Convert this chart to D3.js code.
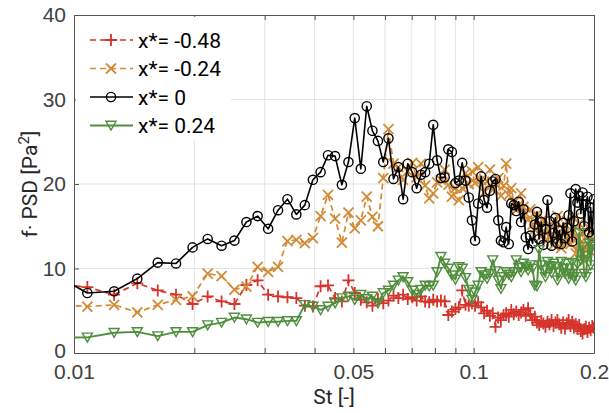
<!DOCTYPE html>
<html>
<head>
<meta charset="utf-8">
<script src="https://cdn.jsdelivr.net/npm/d3@7"></script>
<style>
  body { margin: 0; background: #fff; }
  svg { font-family: Roboto, "Liberation Sans", Arial, sans-serif; }
  .tick-label { fill: #404040; font-size: 21px; }
  .axis-title { fill: #262626; font-size: 21px; }
  .legend-text { fill: #000; font-size: 21px; }
</style>
</head>
<body>
<div id="chart"></div>
<script>
// Strouhal number of each spectral bin
const st = [0.009, 0.0108, 0.0126, 0.0144, 0.0162, 0.018, 0.0198, 0.0216, 0.0234, 0.0252,
  0.027, 0.0288, 0.0306, 0.0324, 0.0342, 0.036, 0.0378, 0.0396, 0.0414, 0.0432,
  0.045, 0.0468, 0.0486, 0.0504, 0.0522, 0.054, 0.0558, 0.0576, 0.0594, 0.0612,
  0.063, 0.0648, 0.0666, 0.0684, 0.0702, 0.072, 0.0738, 0.0756, 0.0774, 0.0792,
  0.081, 0.0828, 0.0846, 0.0864, 0.0882, 0.09, 0.0918, 0.0936, 0.0954, 0.0972,
  0.099, 0.1008, 0.1026, 0.1044, 0.1062, 0.108, 0.1098, 0.1116, 0.1134, 0.1152,
  0.117, 0.1188, 0.1206, 0.1224, 0.1242, 0.126, 0.1278, 0.1296, 0.1314, 0.1332,
  0.135, 0.1368, 0.1386, 0.1404, 0.1422, 0.144, 0.1458, 0.1476, 0.1494, 0.1512,
  0.153, 0.1548, 0.1566, 0.1584, 0.1602, 0.162, 0.1638, 0.1656, 0.1674, 0.1692,
  0.171, 0.1728, 0.1746, 0.1764, 0.1782, 0.18, 0.1818, 0.1836, 0.1854, 0.1872,
  0.189, 0.1908, 0.1926, 0.1944, 0.1962, 0.198, 0.1998];

// f*PSD [Pa^2] for each station
const psdM048 = [8.2, 7.8, 6.9, 8.25, 7.4, 6.9, 5.8, 6.7, 6.1, 5.8,
  8.05, 8.6, 6.9, 6.7, 6.6, 6.5, 5.6, 5.5, 7.9, 8.0,
  6.5, 6.1, 8.6, 7.1, 6.3, 6.0, 5.6, 6.4, 5.9, 6.2,
  6.8, 6.5, 6.9, 6.4, 6.6, 6.2, 6.7, 6.1, 6.0, 6.3,
  6.1, 6.2, 6.1, 4.5, 4.9, 5.2, 5.4, 7.4, 5.7, 5.6,
  5.9, 5.6, 6.0, 5.4, 4.7, 5.0, 4.4, 4.7, 3.1, 4.2,
  3.9, 4.5, 4.7, 4.3, 5.1, 4.6, 4.9, 4.5, 4.8, 5.1,
  4.4, 5.3, 4.6, 3.9, 4.3, 3.6, 3.3, 3.8, 3.5, 3.1,
  3.7, 3.4, 3.9, 3.2, 3.6, 3.9, 3.4, 3.0, 3.6, 2.9,
  3.5, 3.9, 3.2, 3.7, 3.0, 3.4, 2.9, 3.3, 2.6, 2.3,
  2.8, 3.1, 2.5, 3.0, 2.7, 3.2, 3.0];
const psdM024 = [5.7, 5.5, 5.7, 4.8, 5.7, 6.3, 6.7, 9.4, 9.1, 7.5,
  7.85, 10.2, 9.6, 10.2, 13.25, 13.4, 13.0, 13.6, 16.2, 18.7,
  15.9, 13.05, 16.6, 14.75, 15.7, 18.5, 16.1, 15.0, 20.7, 26.5,
  22.4, 22.0, 20.5, 21.5, 22.5, 20.8, 22.4, 19.8, 18.3, 18.9,
  20.2, 20.5, 21.7, 19.9, 18.5, 19.5, 18.1, 19.5, 21.3, 20.0,
  21.5, 20.1, 22.0, 20.5, 19.0, 20.3, 21.7, 19.3, 20.0, 20.7,
  18.6, 19.8, 22.4, 18.7, 19.5, 17.8, 16.9, 17.5, 18.9, 17.3,
  16.5, 15.8, 17.0, 15.2, 14.6, 16.4, 15.0, 13.8, 15.9, 14.2,
  13.4, 15.1, 14.0, 12.8, 14.5, 16.2, 13.5, 12.4, 14.8, 13.2,
  15.6, 13.9, 12.9, 14.4, 16.0, 11.8, 13.6, 15.3, 12.6, 14.1,
  10.9, 13.7, 12.2, 14.8, 12.0, 13.5, 14.6];
const psd0 = [9.2, 7.1, 7.3, 8.8, 10.7, 10.6, 12.5, 13.5, 12.7, 13.3,
  15.5, 16.2, 14.7, 16.9, 18.2, 16.4, 17.5, 20.5, 21.4, 23.4,
  23.3, 19.9, 22.6, 27.8, 21.8, 29.2, 26.3, 25.1, 22.6, 25.4,
  20.6, 22.0, 18.2, 22.4, 21.4, 19.5, 21.1, 21.4, 22.4, 27.0,
  22.8, 20.7, 20.8, 24.1, 23.8, 20.1, 20.4, 22.5, 20.4, 18.4,
  15.7, 13.3, 17.7, 20.9, 18.1, 17.2, 19.2, 20.3, 20.6, 15.7,
  13.3, 13.1, 14.9, 12.9, 17.7, 17.5, 16.8, 17.9, 15.5, 17.0,
  13.7, 12.3, 13.9, 13.0, 15.2, 16.7, 13.5, 15.5, 12.8, 14.7,
  18.1, 15.6, 12.7, 14.2, 16.0, 13.0, 14.5, 12.9, 15.4, 13.6,
  14.8, 16.3, 18.9, 13.2, 15.6, 19.4, 17.8, 18.6, 16.5, 19.0,
  15.0, 17.6, 18.5, 14.3, 17.2, 13.9, 18.2];
const psdP024 = [1.8, 1.85, 2.4, 2.5, 2.0, 2.5, 2.5, 3.3, 3.6, 4.2,
  4.0, 3.6, 3.7, 3.7, 3.8, 3.8, 5.7, 5.5, 5.1, 5.5,
  5.9, 6.5, 6.7, 6.3, 6.9, 6.4, 6.7, 5.9, 7.1, 7.4,
  8.0, 8.6, 9.0, 8.4, 7.4, 6.9, 7.5, 8.0, 7.9, 8.0,
  9.6, 11.4, 10.6, 10.0, 9.2, 8.7, 10.2, 10.0, 8.9, 7.5,
  6.3, 7.2, 8.0, 9.6, 9.2, 8.8, 9.4, 11.0, 9.7, 8.6,
  7.6, 9.0, 9.6, 9.3, 9.0, 9.6, 11.0, 10.1, 9.6, 10.6,
  10.2, 9.8, 10.4, 10.0, 8.0, 7.9, 12.2, 10.4, 9.8, 9.0,
  10.8, 10.3, 9.5, 10.6, 10.2, 8.6, 9.5, 10.8, 10.0, 9.4,
  10.6, 8.8, 9.4, 10.7, 9.0, 8.6, 10.5, 14.2, 11.0, 12.6,
  9.4, 9.0, 11.5, 13.0, 10.4, 12.6, 12.9];

const seriesNames = ['x*= -0.48', 'x*= -0.24', 'x*= 0', 'x*= 0.24'];
const xTicks = [0.01, 0.02, 0.03, 0.04, 0.05, 0.06, 0.07, 0.08, 0.09, 0.1, 0.2];
const xTickLabels = {0.01: '0.01', 0.05: '0.05', 0.1: '0.1', 0.2: '0.2'};
const yTicks = [0, 10, 20, 30, 40];

const config = {
  width: 609, height: 413,
  margin: {top: 15, right: 15, bottom: 60, left: 74}
};
const styles = [
  {color: '#d4342b', dash: '6,4', marker: 'plus', width: 1.7},
  {color: '#d38a34', dash: '6,4', marker: 'cross', width: 1.7},
  {color: '#000000', dash: null, marker: 'circle', width: 1.6},
  {color: '#4f8e3c', dash: null, marker: 'tri', width: 1.9}
];

const width = config.width - config.margin.left - config.margin.right;
const height = config.height - config.margin.top - config.margin.bottom;

const series = [psdM048, psdM024, psd0, psdP024].map((vals, i) => ({
  name: seriesNames[i],
  style: styles[i],
  points: st.map((s, j) => ({st: s, v: vals[j]}))
}));

const xScale = d3.scaleLog().domain([0.01, 0.2]).range([0, width]);
const yScale = d3.scaleLinear().domain([0, 40]).range([height, 0]);

const svg = d3.select('#chart').append('svg')
    .attr('width', config.width)
    .attr('height', config.height);

svg.append('defs').append('clipPath').attr('id', 'plot-clip')
  .append('rect').attr('width', width).attr('height', height);

const chart = svg.append('g')
    .attr('transform', `translate(${config.margin.left},${config.margin.top})`);

// grid
chart.append('g').selectAll('line.vgrid')
  .data(xTicks.slice(1, -1))
  .join('line')
    .attr('x1', d => xScale(d)).attr('x2', d => xScale(d))
    .attr('y1', 0).attr('y2', height)
    .attr('stroke', '#e3e3e3').attr('stroke-width', 1);
chart.append('g').selectAll('line.hgrid')
  .data(yTicks.slice(1, -1))
  .join('line')
    .attr('x1', 0).attr('x2', width)
    .attr('y1', d => yScale(d)).attr('y2', d => yScale(d))
    .attr('stroke', '#e3e3e3').attr('stroke-width', 1);

// axes (ticks inside, MATLAB style box)
const axisColor = '#555';
const xAxisB = d3.axisBottom(xScale).tickValues(xTicks).tickSize(-5).tickSizeOuter(0)
    .tickPadding(11).tickFormat(d => xTickLabels[d] || '');
const xAxisT = d3.axisTop(xScale).tickValues(xTicks).tickSize(-5).tickSizeOuter(0).tickFormat('');
const yAxisL = d3.axisLeft(yScale).tickValues(yTicks).tickSize(-5).tickSizeOuter(0).tickPadding(8);
const yAxisR = d3.axisRight(yScale).tickValues(yTicks).tickSize(-5).tickSizeOuter(0).tickFormat('');

const axes = [
  chart.append('g').attr('transform', `translate(0,${height})`).call(xAxisB),
  chart.append('g').call(xAxisT),
  chart.append('g').call(yAxisL),
  chart.append('g').attr('transform', `translate(${width},0)`).call(yAxisR)
];
axes.forEach(g => {
  g.select('.domain').attr('stroke', axisColor);
  g.selectAll('.tick line').attr('stroke', axisColor);
  g.selectAll('.tick text').attr('class', 'tick-label').attr('fill', null);
});
// keep the "0" label clear of "0.01"
axes[2].selectAll('.tick text').filter(d => d === 0).attr('dy', '0.2em');

// series
const markerPath = {
  plus: 'M-6,0H6M0,-6V6',
  cross: 'M-5,-5L5,5M-5,5L5,-5',
  tri: 'M-5,-4.2L5,-4.2L0,4.6Z'
};
function drawMarker(sel, style) {
  if (style.marker === 'circle') {
    sel.append('circle').attr('r', 4.6).attr('fill', 'none')
      .attr('stroke', style.color).attr('stroke-width', 1.4);
  } else {
    sel.append('path').attr('d', markerPath[style.marker]).attr('fill', 'none')
      .attr('stroke', style.color).attr('stroke-width', style.marker === 'tri' ? 1.4 : 1.8);
  }
}

const line = d3.line().x(d => xScale(d.st)).y(d => yScale(d.v));
const plot = chart.append('g').attr('clip-path', 'url(#plot-clip)');

series.forEach(s => {
  const g = plot.append('g');
  g.append('path')
    .datum(s.points)
    .attr('d', line)
    .attr('fill', 'none')
    .attr('stroke', s.style.color)
    .attr('stroke-width', s.style.width)
    .attr('stroke-dasharray', s.style.dash)
    .attr('stroke-linejoin', 'round');
  g.selectAll('g.mk')
    .data(s.points)
    .join('g')
      .attr('transform', d => `translate(${xScale(d.st)},${yScale(d.v)})`)
      .each(function() { drawMarker(d3.select(this), s.style); });
});

// legend
const legend = chart.append('g').attr('transform', 'translate(2,2)');
legend.append('rect').attr('width', 155).attr('height', 123).attr('fill', '#fff');
series.forEach((s, i) => {
  const row = legend.append('g').attr('transform', `translate(0,${23 + i * 28.5})`);
  row.append('line')
    .attr('x1', 14).attr('x2', 57).attr('y1', 0).attr('y2', 0)
    .attr('stroke', s.style.color)
    .attr('stroke-width', s.style.width)
    .attr('stroke-dasharray', s.style.dash);
  const m = row.append('g').attr('transform', 'translate(35,0)');
  drawMarker(m, s.style);
  row.append('text').attr('class', 'legend-text')
    .attr('x', 62).attr('dy', '0.36em').text(s.name);
});

// axis titles
svg.append('text').attr('class', 'axis-title')
  .attr('x', config.margin.left + width / 2).attr('y', 404)
  .attr('text-anchor', 'middle').text('St [-]');

const yt = svg.append('text').attr('class', 'axis-title')
  .attr('transform', `translate(37,${config.margin.top + height / 2}) rotate(-90)`)
  .attr('text-anchor', 'middle');
yt.append('tspan').text('f· PSD [Pa');
yt.append('tspan').attr('dy', -8).attr('font-size', 15).text('2');
yt.append('tspan').attr('dy', 8).text(']');
</script>
</body>
</html>
